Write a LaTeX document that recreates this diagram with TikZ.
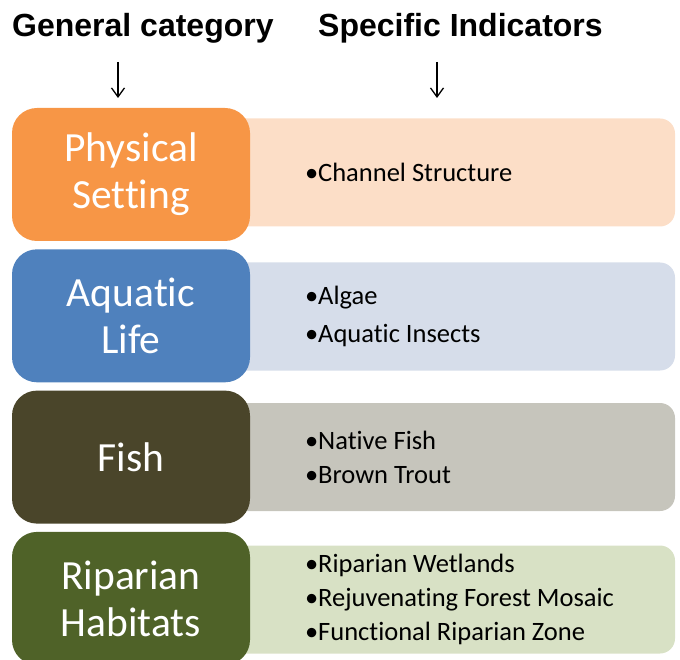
\documentclass[tikz,border=0pt]{standalone}
\usepackage{fontspec}
\setmainfont{Carlito}[Ligatures=NoCommon]
\newfontfamily\headfont{Liberation Sans}
\usetikzlibrary{positioning}
\usetikzlibrary{arrows.meta}

\definecolor{physdark}{HTML}{F79646}
\definecolor{physlight}{HTML}{FCDEC7}
\definecolor{aquadark}{HTML}{4F81BD}
\definecolor{aqualight}{HTML}{D6DDEA}
\definecolor{fishdark}{HTML}{4A452A}
\definecolor{fishlight}{HTML}{C6C5BC}
\definecolor{ripdark}{HTML}{4F6228}
\definecolor{riplight}{HTML}{D8E1C5}

\begin{document}
\begin{tikzpicture}[x=1pt,y=-1pt,
  cat/.style={rounded corners=25pt, minimum width=238pt, minimum height=133pt, inner sep=0pt,
    text=white, align=center, font=\fontsize{41.5}{47}\selectfont},
  ind/.style={rounded corners=15pt, minimum width=475pt, minimum height=108pt, inner sep=0pt},
  items/.style={anchor=west, align=left, inner sep=0pt, font=\fontsize{26.5}{34}\selectfont},
  heading/.style={anchor=base west, inner sep=0pt, font=\headfont\bfseries\fontsize{32}{38}\selectfont},
  downarr/.style={line width=1.3pt, -{Straight Barb[length=9pt,width=13pt]}}]
\useasboundingbox (0,0) rectangle (680,660);

\node[heading] (gen) at (12,37) {General category};
\node[heading] (spec) at (318,37) {Specific Indicators};
\coordinate (genarr) at (118,62);
\coordinate (specarr) at (437,62);
\draw[downarr] (genarr) -- ++(0,36);
\draw[downarr] (specarr) -- ++(0,36);

\node[ind, fill=physlight] (ind1) at (437.5,172.5) {};
\node[ind, fill=aqualight] (ind2) at (437.5,316.5) {};
\node[ind, fill=fishlight] (ind3) at (437.5,457) {};
\node[ind, fill=riplight] (ind4) at (437.5,599.5) {};

\node[items, right=105pt of ind1.west] (txt1) {•Channel Structure};
\node[items, right=105pt of ind2.west, font=\fontsize{26.5}{38}\selectfont] (txt2) {•Algae\\•Aquatic Insects};
\node[items, right=105pt of ind3.west] (txt3) {•Native Fish\\•Brown Trout};
\node[items, right=105pt of ind4.west] (txt4) {•Riparian Wetlands\\•Rejuvenating Forest Mosaic\\•Functional Riparian Zone};

\node[cat, fill=physdark] (cat1) at (131,174.5) {Physical\\Setting};
\node[cat, fill=aquadark] (cat2) at (131,315.8) {Aquatic\\Life};
\node[cat, fill=fishdark] (cat3) at (131,457.1) {Fish};
\node[cat, fill=ripdark] (cat4) at (131,598.4) {Riparian\\Habitats};
\end{tikzpicture}
\end{document}
